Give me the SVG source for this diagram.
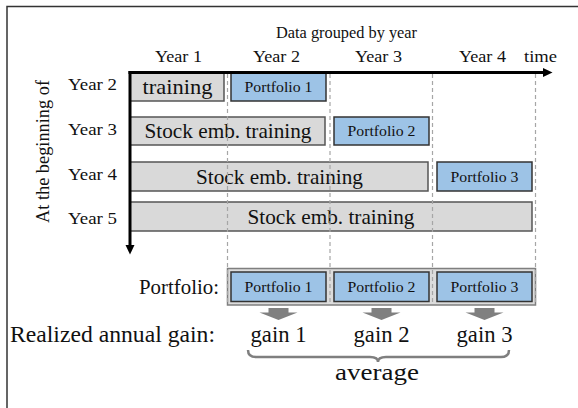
<svg xmlns="http://www.w3.org/2000/svg" width="578" height="408" viewBox="0 0 578 408">
  <style>
    text { font-family: "Liberation Serif", "DejaVu Serif", serif; fill: #111; }
    .lbl { font-size: 17.5px; }
    .side { font-size: 18.5px; }
    .pfl { font-size: 21px; }
    .bar { font-size: 21px; text-anchor: middle; }
    .pf { font-size: 15px; text-anchor: middle; }
    .big { font-size: 23.5px; }
    .train { fill: #d9d9d9; stroke: #555; stroke-width: 1.5; }
    .port { fill: #9dc3e6; stroke: #333; stroke-width: 1.5; }
    .grid { stroke: #a6a6a6; stroke-width: 1.2; stroke-dasharray: 4 3; fill: none; }
    .axis { stroke: #000; stroke-width: 3; fill: none; }
    .blk { fill: #808080; }
  </style>

  <rect width="578" height="408" fill="#fff"/>
  <!-- frame -->
  <path d="M7,408 V6.5 H578" fill="none" stroke="#333" stroke-width="1.5"/>

  <!-- headings -->
  <text class="lbl" x="346.5" y="38" text-anchor="middle" textLength="141" lengthAdjust="spacingAndGlyphs">Data grouped by year</text>
  <g id="col-labels" class="lbl" text-anchor="middle">
    <text x="178.5" y="62" textLength="47" lengthAdjust="spacingAndGlyphs">Year 1</text>
    <text x="276.5" y="62" textLength="47" lengthAdjust="spacingAndGlyphs">Year 2</text>
    <text x="378.5" y="62" textLength="47" lengthAdjust="spacingAndGlyphs">Year 3</text>
    <text x="482.5" y="62" textLength="47" lengthAdjust="spacingAndGlyphs">Year 4</text>
    <text x="540.5" y="62" textLength="33" lengthAdjust="spacingAndGlyphs">time</text>
  </g>
  <text class="side" transform="translate(49,151.5) rotate(-90)" text-anchor="middle" textLength="143" lengthAdjust="spacingAndGlyphs">At the beginning of</text>
  <g id="row-labels" class="lbl" text-anchor="end">
    <text x="117" y="90" textLength="49" lengthAdjust="spacingAndGlyphs">Year 2</text>
    <text x="117" y="135" textLength="49" lengthAdjust="spacingAndGlyphs">Year 3</text>
    <text x="117" y="179.5" textLength="49" lengthAdjust="spacingAndGlyphs">Year 4</text>
    <text x="117" y="223.5" textLength="49" lengthAdjust="spacingAndGlyphs">Year 5</text>
  </g>

  <!-- year 2 row -->
  <g id="train-y2">
    <rect class="train" x="130" y="73" width="94" height="28"/>
    <text class="bar" x="177.5" y="94" textLength="70" lengthAdjust="spacingAndGlyphs">training</text>
  </g>
  <g id="portfolio1-y2">
    <rect class="port" x="231" y="73" width="95" height="28"/>
    <text class="pf" x="278.5" y="92" textLength="68" lengthAdjust="spacingAndGlyphs">Portfolio 1</text>
  </g>
  <!-- year 3 row -->
  <g id="train-y3">
    <rect class="train" x="130" y="117" width="195" height="28"/>
    <text class="bar" x="228" y="138" textLength="167" lengthAdjust="spacingAndGlyphs">Stock emb. training</text>
  </g>
  <g id="portfolio2-y3">
    <rect class="port" x="334" y="117" width="95" height="28"/>
    <text class="pf" x="381.5" y="136" textLength="68" lengthAdjust="spacingAndGlyphs">Portfolio 2</text>
  </g>
  <!-- year 4 row -->
  <g id="train-y4">
    <rect class="train" x="130" y="162" width="298" height="29"/>
    <text class="bar" x="279.5" y="183.5" textLength="167" lengthAdjust="spacingAndGlyphs">Stock emb. training</text>
  </g>
  <g id="portfolio3-y4">
    <rect class="port" x="437" y="162" width="95" height="29"/>
    <text class="pf" x="484.5" y="181.5" textLength="68" lengthAdjust="spacingAndGlyphs">Portfolio 3</text>
  </g>
  <!-- year 5 row -->
  <g id="train-y5">
    <rect class="train" x="130" y="202" width="402" height="29"/>
    <text class="bar" x="331" y="223.5" textLength="167" lengthAdjust="spacingAndGlyphs">Stock emb. training</text>
  </g>

  <!-- realised portfolio strip -->
  <text class="pfl" x="219" y="293.5" text-anchor="end" textLength="80" lengthAdjust="spacingAndGlyphs">Portfolio:</text>
  <g id="portfolio-strip">
    <rect x="227.5" y="268.5" width="308" height="36.5" fill="#dcdcdc" stroke="#7f7f7f" stroke-width="1.5"/>
  </g>

  <!-- year separators -->
  <g id="grid" class="grid">
    <line x1="227.5" y1="74" x2="227.5" y2="305"/>
    <line x1="330" y1="74" x2="330" y2="305"/>
    <line x1="432.5" y1="74" x2="432.5" y2="305"/>
    <line x1="535.5" y1="74" x2="535.5" y2="305"/>
  </g>

  <g id="portfolio1">
    <rect class="port" x="231" y="272" width="95" height="29.5"/>
    <text class="pf" x="278.5" y="291.5" textLength="68" lengthAdjust="spacingAndGlyphs">Portfolio 1</text>
  </g>
  <g id="portfolio2">
    <rect class="port" x="334" y="272" width="95" height="29.5"/>
    <text class="pf" x="381.5" y="291.5" textLength="68" lengthAdjust="spacingAndGlyphs">Portfolio 2</text>
  </g>
  <g id="portfolio3">
    <rect class="port" x="437" y="272" width="95" height="29.5"/>
    <text class="pf" x="484.5" y="291.5" textLength="68" lengthAdjust="spacingAndGlyphs">Portfolio 3</text>
  </g>

  <!-- gains -->
  <text class="big" x="215" y="341.5" text-anchor="end" textLength="205" lengthAdjust="spacingAndGlyphs">Realized annual gain:</text>
  <g id="gain1"><text class="big" x="278.5" y="341.5" text-anchor="middle" textLength="56" lengthAdjust="spacingAndGlyphs">gain 1</text></g>
  <g id="gain2"><text class="big" x="381.5" y="341.5" text-anchor="middle" textLength="56" lengthAdjust="spacingAndGlyphs">gain 2</text></g>
  <g id="gain3"><text class="big" x="484.5" y="341.5" text-anchor="middle" textLength="56" lengthAdjust="spacingAndGlyphs">gain 3</text></g>

  <!-- brace and average -->
  <path d="M248,350 Q248,357 256,357 L370,357 Q378,357 378,362 Q378,357 386,357 L501,357 Q509,357 509,350" fill="none" stroke="#7f7f7f" stroke-width="2.5"/>
  <g id="average"><text class="big" x="377" y="380" text-anchor="middle" textLength="84" lengthAdjust="spacingAndGlyphs">average</text></g>

  <!-- connectors -->
  <g id="connectors">
    <path class="axis" d="M128.5,72.5 H544"/>
    <polygon points="543,68 552.5,72.5 543,77" fill="#000"/>
    <path class="axis" d="M130,71 V246"/>
    <polygon points="125.5,245 130,254.5 134.5,245" fill="#000"/>
    <polygon class="blk" points="268.5,308 288.5,308 288.5,312.5 297.5,312.5 278.5,320 259.5,312.5 268.5,312.5"/>
    <polygon class="blk" points="371.5,308 391.5,308 391.5,312.5 400.5,312.5 381.5,320 362.5,312.5 371.5,312.5"/>
    <polygon class="blk" points="474.5,308 494.5,308 494.5,312.5 503.5,312.5 484.5,320 465.5,312.5 474.5,312.5"/>
  </g>
</svg>
